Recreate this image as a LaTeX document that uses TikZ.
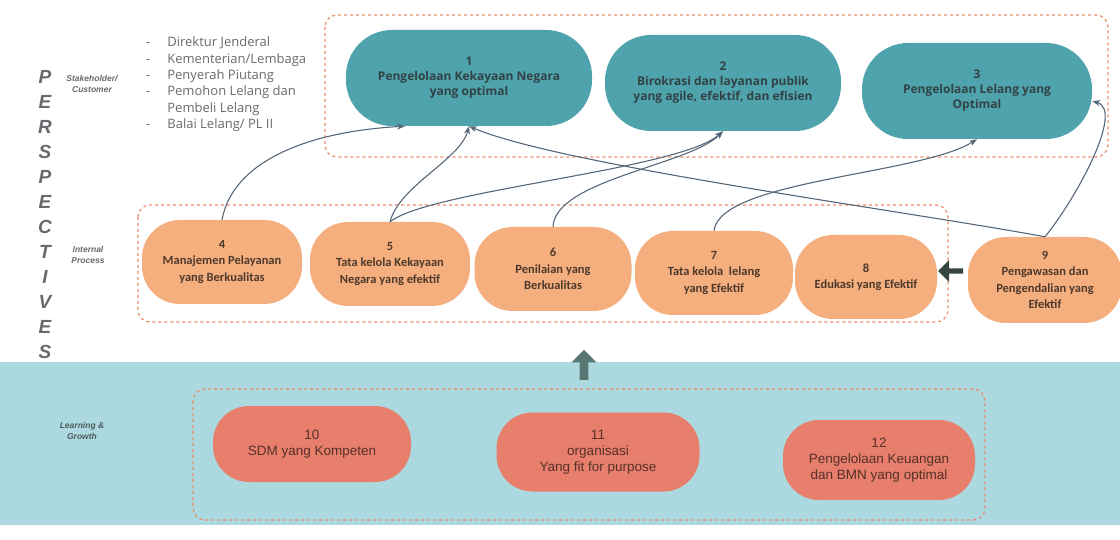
\documentclass[tikz,border=0pt]{standalone}
\usepackage{fontspec}
\setmainfont{Open Sans}
\newfontfamily\calfont{Carlito}
\newfontfamily\arialfont{Liberation Sans}
\usetikzlibrary{arrows.meta,shapes.arrows}

\definecolor{tealbox}{RGB}{79,163,172}
\definecolor{orangebox}{RGB}{245,174,125}
\definecolor{salmonbox}{RGB}{231,127,108}
\definecolor{bandblue}{RGB}{172,217,224}
\definecolor{dashorange}{RGB}{236,138,106}
\definecolor{linkgray}{RGB}{86,103,122}
\definecolor{toptext}{RGB}{50,66,68}
\definecolor{midtext}{RGB}{78,58,44}
\definecolor{lowtext}{RGB}{86,48,42}
\definecolor{sidegray}{RGB}{105,105,110}
\definecolor{darkarrow}{RGB}{52,70,62}
\definecolor{uparrow}{RGB}{88,118,114}

\begin{document}
\begin{tikzpicture}[x=1pt,y=-1pt,
    topbox/.style={rectangle, rounded corners=46pt, fill=tealbox, minimum width=246pt, minimum height=96pt, align=center, text=toptext, font=\bfseries\fontsize{12}{15}\selectfont},
    midbox/.style={rectangle, rounded corners=38pt, fill=orangebox, minimum width=160pt, minimum height=84pt, align=center, text=midtext, font=\calfont\bfseries\fontsize{12.5}{16.5}\selectfont},
    lowbox/.style={rectangle, rounded corners=36pt, fill=salmonbox, minimum width=198pt, minimum height=76pt, align=center, text=lowtext, font=\arialfont\fontsize{13.5}{16}\selectfont},
    frame/.style={draw=dashorange, dash pattern=on 3pt off 3pt, line width=1.2pt, rounded corners=12pt},
    link/.style={draw=linkgray, line width=1.1pt, -{Stealth[length=8pt,width=6pt]}},
    persp/.style={text=sidegray, font=\arialfont\bfseries\itshape\fontsize{19}{19}\selectfont},
    sidelabel/.style={align=center, text=sidegray, font=\arialfont\bfseries\itshape\fontsize{8.5}{11}\selectfont}]

  \useasboundingbox (0,0) rectangle (1120,540);
  \fill[bandblue] (0,362) rectangle (1120,525);

  % perspectives down the left side
  \foreach \l [count=\i] in {P,E,R,S,P,E,C,T,I,V,E,S}
    \node[persp] (p\i) at (45,{77+25*(\i-1)}) {\l};
  \node[sidelabel] (stake) at (92,84) {Stakeholder/\\Customer};
  \node[sidelabel] (inter) at (88,255) {Internal\\Process};
  \node[sidelabel, text=sidegray!60!bandblue!60!black] (learn) at (82,431) {Learning \&\\Growth};

  \node[anchor=north west, inner sep=0pt, text=sidegray, font=\fontsize{13}{16.4}\selectfont] (list) at (146,35)
    {\begin{tabular}{@{}l@{\hspace{17pt}}l@{}}
      - & Direktur Jenderal\\
      - & Kementerian/Lembaga\\
      - & Penyerah Piutang\\
      - & Pemohon Lelang dan\\
        & Pembeli Lelang\\
      - & Balai Lelang/ PL II
    \end{tabular}};

  % frames
  \draw[frame] (325,15) rectangle (1108,157);
  \draw[frame] (138,205) rectangle (948,322);
  \draw[frame] (193,389) rectangle (985,520);

  % stakeholder / customer
  \node[topbox] (n1) at (469,78) {1\\Pengelolaan Kekayaan Negara\\yang optimal};
  \node[topbox, minimum width=236pt] (n2) at (723,83) {2\\Birokrasi dan layanan publik\\yang agile, efektif, dan efisien};
  \node[topbox, minimum width=230pt] (n3) at (977,91) {3\\Pengelolaan Lelang yang\\Optimal};

  % internal process
  \node[midbox] (n4) at (222,262) {4\\Manajemen Pelayanan\\yang Berkualitas};
  \node[midbox] (n5) at (390,264) {5\\Tata kelola Kekayaan\\Negara yang efektif};
  \node[midbox, minimum width=157pt] (n6) at (553,269) {6\\Penilaian yang\\Berkualitas};
  \node[midbox, minimum width=158pt] (n7) at (714,273) {7\\Tata kelola\ \ lelang\\yang Efektif};
  \node[midbox, minimum width=142pt] (n8) at (866,277) {8\\Edukasi yang Efektif};
  \node[midbox, minimum width=154pt, minimum height=86pt] (n9) at (1045,280) {9\\Pengawasan dan\\Pengendalian yang\\Efektif};

  % learning & growth
  \node[lowbox] (n10) at (312,444) {10\\SDM yang Kompeten};
  \node[lowbox, minimum width=203pt, minimum height=79pt] (n11) at (598,452) {11\\organisasi\\Yang fit for purpose};
  \node[lowbox, minimum width=192pt, minimum height=80pt] (n12) at (879,460) {12\\Pengelolaan Keuangan\\dan BMN yang optimal};

  % block arrows
  \node[single arrow, fill=darkarrow, shape border rotate=180, minimum height=25pt, minimum width=22pt, single arrow head extend=4pt, inner sep=1pt] (toeight) at (952,271) {};
  \node[single arrow, fill=uparrow, shape border rotate=90, minimum height=30pt, minimum width=25pt, single arrow head extend=4pt, inner sep=2pt] (upward) at (584,367) {};

  % links
  \draw[link] (n4.north) .. controls (232,165) and (300,132) .. (n1.217);
  \draw[link] (n5.north) .. controls (400,185) and (460,160) .. (n1.south);
  \draw[link] (n5.north) .. controls (430,190) and (680,170) .. (n2.south);
  \draw[link] (n6.north) .. controls (555,180) and (690,165) .. (n2.south);
  \draw[link] (n7.north) .. controls (720,180) and (920,175) .. (n3.south);
  \draw[link] (n9.north) .. controls (1075,200) and (1125,110) .. (n3.-5);
  \draw[link] (n9.north) .. controls (900,210) and (560,165) .. (n1.south);

\end{tikzpicture}
\end{document}
